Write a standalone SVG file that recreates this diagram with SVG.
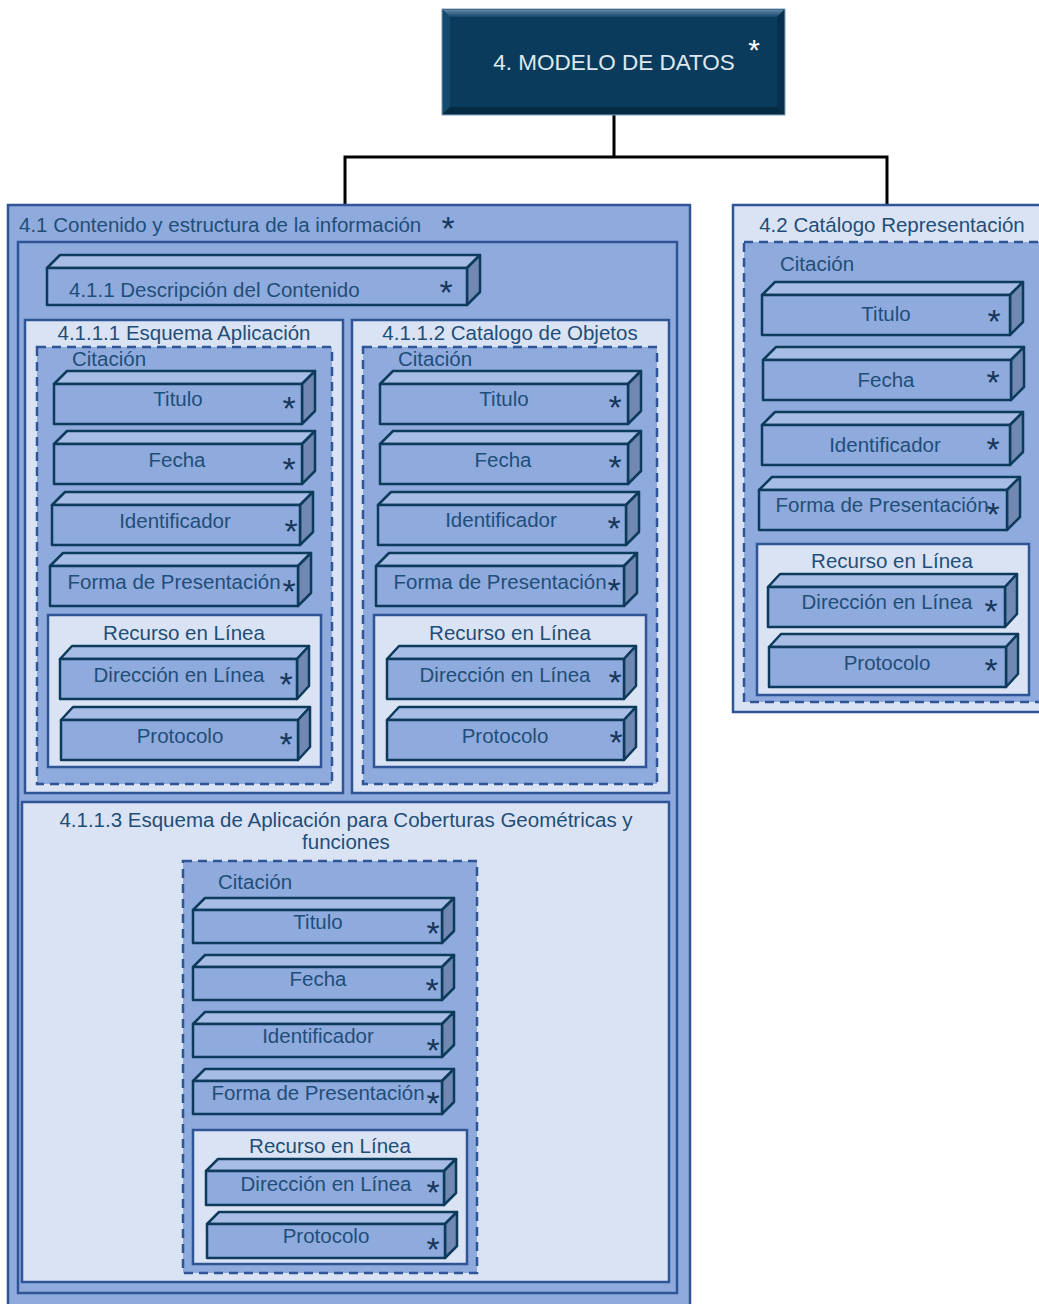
<svg xmlns="http://www.w3.org/2000/svg" xmlns:xlink="http://www.w3.org/1999/xlink" width="1039" height="1304" viewBox="0 0 1039 1304">
  <style>
    text { font-family: "Liberation Sans", Arial, sans-serif; fill: #1f4e79; }
    .lbl { font-size: 20.5px; }
    .mid { text-anchor: middle; }
    .ast { font-size: 34px; fill: #17375a; text-anchor: middle; }
    .outer { fill: #8faadc; stroke: #2f5597; stroke-width: 2.5; }
    .light { fill: #dae3f3; stroke: #2f5597; stroke-width: 2.5; }
    .dash { fill: #8faadc; stroke: #2f5597; stroke-width: 2.5; stroke-dasharray: 9 6; }
    .bf { fill: #8faadc; stroke: #0c3b5c; stroke-width: 2.5; stroke-linejoin: round; }
    .bt { fill: #a8bde5; stroke: #0c3b5c; stroke-width: 2.5; stroke-linejoin: round; }
    .bs { fill: #7088b2; stroke: #0c3b5c; stroke-width: 2.5; stroke-linejoin: round; }
    .conn { fill: none; stroke: #000; stroke-width: 3; }
  </style>
  <defs>
    <!-- 3D bars: front face origin at (0,0) -->
    <g id="b0">
      <path class="bt" d="M0 0 L13 -13 H433 L420 0 Z"/>
      <path class="bs" d="M420 0 L433 -13 V24 L420 37 Z"/>
      <rect class="bf" x="0" y="0" width="420" height="37"/>
    </g>
    <g id="b1">
      <path class="bt" d="M0 0 L13 -13 H261 L248 0 Z"/>
      <path class="bs" d="M248 0 L261 -13 V27 L248 40 Z"/>
      <rect class="bf" x="0" y="0" width="248" height="40"/>
    </g>
    <g id="b2">
      <path class="bt" d="M0 0 L12 -13 H249 L237 0 Z"/>
      <path class="bs" d="M237 0 L249 -13 V27 L237 40 Z"/>
      <rect class="bf" x="0" y="0" width="237" height="40"/>
    </g>
    <g id="b3">
      <path class="bt" d="M0 0 L12 -12 H261 L249 0 Z"/>
      <path class="bs" d="M249 0 L261 -12 V21 L249 33 Z"/>
      <rect class="bf" x="0" y="0" width="249" height="33"/>
    </g>
    <g id="b4">
      <path class="bt" d="M0 0 L12 -12 H250 L238 0 Z"/>
      <path class="bs" d="M238 0 L250 -12 V22 L238 34 Z"/>
      <rect class="bf" x="0" y="0" width="238" height="34"/>
    </g>
    <linearGradient id="topBevel" x1="0" y1="0" x2="0" y2="1">
      <stop offset="0" stop-color="#5f86a8"/>
      <stop offset="1" stop-color="#12486c"/>
    </linearGradient>
  </defs>

  <!-- connectors -->
  <g id="connectors">
    <path class="conn" d="M614 114 V157 M345 157 H887 M345 155.5 V205 M887 155.5 V205"/>
  </g>

  <!-- root node -->
  <g id="root">
    <rect x="442" y="9" width="343" height="106" fill="#0c3d5f" stroke="#7f9bb8" stroke-width="1"/>
    <polygon points="443,10 784,10 777,17 450,17" fill="url(#topBevel)"/>
    <polygon points="443,10 450,17 450,107 443,114" fill="#134a6e"/>
    <polygon points="784,10 777,17 777,107 784,114" fill="#06304d"/>
    <polygon points="443,114 450,107 777,107 784,114" fill="#052a44"/>
    <rect x="450" y="17" width="327" height="90" fill="#0b3b5c"/>
    <text x="614" y="70" class="mid" style="font-size:22.5px;fill:#dfe8f0">4. MODELO DE DATOS</text>
    <text x="754" y="60" class="ast" style="fill:#ffffff;font-size:30px">*</text>
  </g>

  <!-- 4.1 -->
  <g id="n41">
    <rect class="outer" x="8" y="205" width="682" height="1115"/>
    <text x="19" y="232" class="lbl">4.1 Contenido y estructura de la información</text>
    <text x="448" y="240" class="ast">*</text>
    <rect class="outer" x="18" y="242" width="659" height="1051"/>
  </g>

  <g id="n411">
    <use href="#b0" x="47" y="268"/>
    <text x="69" y="297" class="lbl">4.1.1 Descripción del Contenido</text>
    <text x="446" y="304" class="ast">*</text>
  </g>

  <!-- 4.1.1.1 -->
  <g id="n4111">
    <rect class="light" x="25" y="320" width="318" height="473"/>
    <text x="184" y="340" class="lbl mid">4.1.1.1 Esquema Aplicación</text>
    <rect class="dash" x="37" y="347" width="295" height="437"/>
    <text x="72" y="366" class="lbl">Citación</text>
    <use href="#b1" x="54" y="384"/>
    <text x="178" y="406" class="lbl mid">Titulo</text>
    <text x="289" y="420" class="ast">*</text>
    <use href="#b1" x="54" y="444"/>
    <text x="177" y="467" class="lbl mid">Fecha</text>
    <text x="289" y="481" class="ast">*</text>
    <use href="#b1" x="52" y="505"/>
    <text x="175" y="528" class="lbl mid">Identificador</text>
    <text x="291" y="543" class="ast">*</text>
    <use href="#b1" x="50" y="566"/>
    <text x="174" y="589" class="lbl mid">Forma de Presentación</text>
    <text x="289" y="603" class="ast">*</text>
    <rect class="light" x="48" y="615" width="273" height="152"/>
    <text x="184" y="640" class="lbl mid">Recurso en Línea</text>
    <use href="#b2" x="60" y="659"/>
    <text x="179" y="682" class="lbl mid">Dirección en Línea</text>
    <text x="286" y="696" class="ast">*</text>
    <use href="#b2" x="61" y="720"/>
    <text x="180" y="743" class="lbl mid">Protocolo</text>
    <text x="286" y="756" class="ast">*</text>
  </g>

  <!-- 4.1.1.2 -->
  <g id="n4112">
    <rect class="light" x="352" y="320" width="317" height="473"/>
    <text x="510" y="340" class="lbl mid">4.1.1.2 Catalogo de Objetos</text>
    <rect class="dash" x="363" y="347" width="294" height="437"/>
    <text x="398" y="366" class="lbl">Citación</text>
    <use href="#b1" x="380" y="384"/>
    <text x="504" y="406" class="lbl mid">Titulo</text>
    <text x="615" y="419" class="ast">*</text>
    <use href="#b1" x="380" y="444"/>
    <text x="503" y="467" class="lbl mid">Fecha</text>
    <text x="615" y="479" class="ast">*</text>
    <use href="#b1" x="378" y="505"/>
    <text x="501" y="527" class="lbl mid">Identificador</text>
    <text x="614" y="540" class="ast">*</text>
    <use href="#b1" x="376" y="566"/>
    <text x="500" y="589" class="lbl mid">Forma de Presentación</text>
    <text x="614" y="602" class="ast">*</text>
    <rect class="light" x="374" y="615" width="272" height="152"/>
    <text x="510" y="640" class="lbl mid">Recurso en Línea</text>
    <use href="#b2" x="387" y="659"/>
    <text x="505" y="682" class="lbl mid">Dirección en Línea</text>
    <text x="615" y="694" class="ast">*</text>
    <use href="#b2" x="387" y="720"/>
    <text x="505" y="743" class="lbl mid">Protocolo</text>
    <text x="616" y="754" class="ast">*</text>
  </g>

  <!-- 4.1.1.3 -->
  <g id="n4113">
    <rect class="light" x="22" y="802" width="647" height="480"/>
    <text x="346" y="827" class="lbl mid">4.1.1.3 Esquema de Aplicación para Coberturas Geométricas y</text>
    <text x="346" y="849" class="lbl mid">funciones</text>
    <rect class="dash" x="183" y="861" width="294" height="412"/>
    <text x="218" y="889" class="lbl">Citación</text>
    <use href="#b3" x="193" y="910"/>
    <text x="318" y="929" class="lbl mid">Titulo</text>
    <text x="433" y="945" class="ast">*</text>
    <use href="#b3" x="193" y="967"/>
    <text x="318" y="986" class="lbl mid">Fecha</text>
    <text x="432" y="1002" class="ast">*</text>
    <use href="#b3" x="193" y="1024"/>
    <text x="318" y="1043" class="lbl mid">Identificador</text>
    <text x="433" y="1062" class="ast">*</text>
    <use href="#b3" x="193" y="1081"/>
    <text x="318" y="1100" class="lbl mid">Forma de Presentación</text>
    <text x="433" y="1115" class="ast">*</text>
    <rect class="light" x="193" y="1130" width="274" height="134"/>
    <text x="330" y="1153" class="lbl mid">Recurso en Línea</text>
    <use href="#b4" x="206" y="1171"/>
    <text x="326" y="1191" class="lbl mid">Dirección en Línea</text>
    <text x="433" y="1204" class="ast">*</text>
    <use href="#b4" x="207" y="1224"/>
    <text x="326" y="1243" class="lbl mid">Protocolo</text>
    <text x="433" y="1261" class="ast">*</text>
  </g>

  <!-- 4.2 -->
  <g id="n42">
    <rect class="light" x="733" y="205" width="320" height="507"/>
    <text x="892" y="232" class="lbl mid">4.2 Catálogo Representación</text>
    <rect class="dash" x="744" y="242" width="310" height="460"/>
    <text x="780" y="271" class="lbl">Citación</text>
    <use href="#b1" x="762" y="295"/>
    <text x="886" y="321" class="lbl mid">Titulo</text>
    <text x="994" y="333" class="ast">*</text>
    <use href="#b1" x="763" y="360"/>
    <text x="886" y="387" class="lbl mid">Fecha</text>
    <text x="993" y="394" class="ast">*</text>
    <use href="#b1" x="762" y="425"/>
    <text x="885" y="452" class="lbl mid">Identificador</text>
    <text x="993" y="461" class="ast">*</text>
    <use href="#b1" x="759" y="490"/>
    <text x="882" y="512" class="lbl mid">Forma de Presentación</text>
    <text x="993" y="526" class="ast">*</text>
    <rect class="light" x="757" y="544" width="272" height="151"/>
    <text x="892" y="568" class="lbl mid">Recurso en Línea</text>
    <use href="#b2" x="768" y="587"/>
    <text x="887" y="609" class="lbl mid">Dirección en Línea</text>
    <text x="991" y="623" class="ast">*</text>
    <use href="#b2" x="769" y="647"/>
    <text x="887" y="670" class="lbl mid">Protocolo</text>
    <text x="991" y="682" class="ast">*</text>
  </g>
</svg>
